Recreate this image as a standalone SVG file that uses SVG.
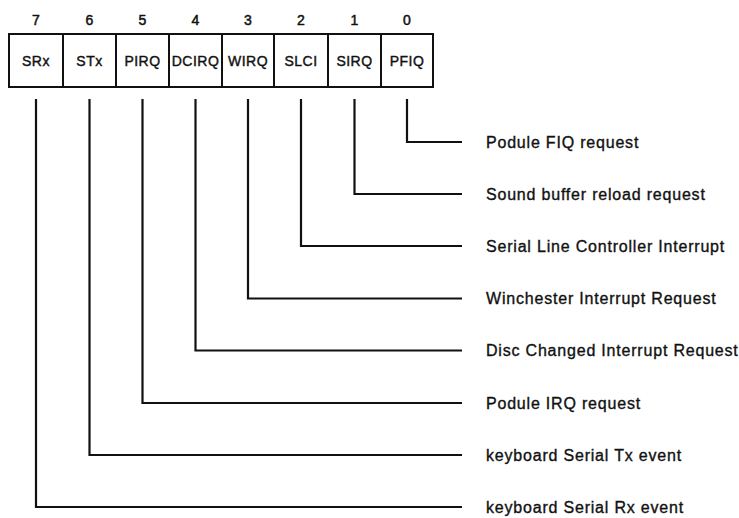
<svg xmlns="http://www.w3.org/2000/svg" width="739" height="518" viewBox="0 0 739 518">
<style>
.cell{fill:#fff;stroke:#111;stroke-width:2}
.bit{font-family:"Liberation Sans",Arial,sans-serif;font-size:14px;fill:#111;stroke:#111;stroke-width:0.5;text-anchor:middle}
.name{font-family:"Liberation Sans",Arial,sans-serif;font-size:14px;fill:#111;stroke:#111;stroke-width:0.4;text-anchor:middle;letter-spacing:0.5px}
.lbl{font-family:"Liberation Sans",Arial,sans-serif;font-size:16px;fill:#111;stroke:#111;stroke-width:0.35;letter-spacing:0.8px}
.wire{fill:none;stroke:#111;stroke-width:2.2;stroke-linejoin:miter}
</style>
<rect width="739" height="518" fill="#fff"/>
<g id="cell-bit7"><rect class="cell" x="9" y="34" width="54" height="53"/><text class="bit" x="36" y="25">7</text><text class="name" x="36" y="66">SRx</text></g>
<g id="cell-bit6"><rect class="cell" x="63" y="34" width="53" height="53"/><text class="bit" x="89.5" y="25">6</text><text class="name" x="89.5" y="66">STx</text></g>
<g id="cell-bit5"><rect class="cell" x="116" y="34" width="53" height="53"/><text class="bit" x="142.5" y="25">5</text><text class="name" x="142.5" y="66">PIRQ</text></g>
<g id="cell-bit4"><rect class="cell" x="169" y="34" width="53" height="53"/><text class="bit" x="195.5" y="25">4</text><text class="name" x="195.5" y="66">DCIRQ</text></g>
<g id="cell-bit3"><rect class="cell" x="222" y="34" width="52" height="53"/><text class="bit" x="248" y="25">3</text><text class="name" x="248" y="66">WIRQ</text></g>
<g id="cell-bit2"><rect class="cell" x="274" y="34" width="54" height="53"/><text class="bit" x="301" y="25">2</text><text class="name" x="301" y="66">SLCI</text></g>
<g id="cell-bit1"><rect class="cell" x="328" y="34" width="53" height="53"/><text class="bit" x="354.5" y="25">1</text><text class="name" x="354.5" y="66">SIRQ</text></g>
<g id="cell-bit0"><rect class="cell" x="381" y="34" width="52" height="53"/><text class="bit" x="407" y="25">0</text><text class="name" x="407" y="66">PFIQ</text></g>
<g id="connectors">
<path class="wire" d="M407 99V142H462"/>
<path class="wire" d="M354.5 99V194H462"/>
<path class="wire" d="M301 99V246H462"/>
<path class="wire" d="M248 99V298.5H462"/>
<path class="wire" d="M195.5 99V350.5H462"/>
<path class="wire" d="M142.5 99V403H462"/>
<path class="wire" d="M89.5 99V455H462"/>
<path class="wire" d="M36 99V507H462"/>
</g>
<g id="label-bit0"><text class="lbl" x="486" y="147.5">Podule FIQ request</text></g>
<g id="label-bit1"><text class="lbl" x="486" y="199.5">Sound buffer reload request</text></g>
<g id="label-bit2"><text class="lbl" x="486" y="251.5">Serial Line Controller Interrupt</text></g>
<g id="label-bit3"><text class="lbl" x="486" y="304">Winchester Interrupt Request</text></g>
<g id="label-bit4"><text class="lbl" x="486" y="356">Disc Changed Interrupt Request</text></g>
<g id="label-bit5"><text class="lbl" x="486" y="408.5">Podule IRQ request</text></g>
<g id="label-bit6"><text class="lbl" x="486" y="460.5">keyboard Serial Tx event</text></g>
<g id="label-bit7"><text class="lbl" x="486" y="512.5">keyboard Serial Rx event</text></g>
</svg>
